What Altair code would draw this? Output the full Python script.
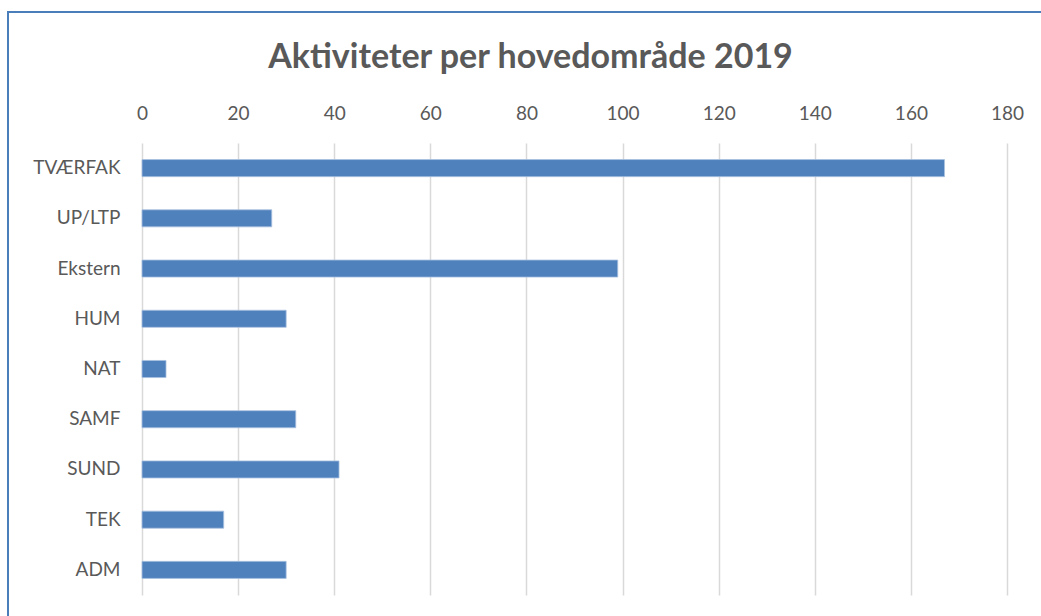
import altair as alt
import pandas as pd

categories = ["TVÆRFAK", "UP/LTP", "Ekstern", "HUM", "NAT", "SAMF", "SUND", "TEK", "ADM"]
values = [167, 27, 99, 30, 5, 32, 41, 17, 30]
tick_values = [0, 20, 40, 60, 80, 100, 120, 140, 160, 180]

df = pd.DataFrame({"omr": categories, "antal": values})

FONT = "Lato"
TXT = "#595959"
W, H = 865, 452

bars = alt.Chart(df).mark_bar(color="#4F81BD", stroke="#A9C1E0", strokeWidth=0.8).encode(
    x=alt.X(
        "antal:Q",
        scale=alt.Scale(domain=[0, 180], nice=False),
        axis=alt.Axis(
            orient="top",
            values=tick_values,
            title=None,
            ticks=False,
            domain=False,
            grid=True,
            gridColor="#D9D9D9",
            gridWidth=1.5,
            labelFont=FONT,
            labelFontSize=19,
            labelColor=TXT,
            labelPadding=20,
            labelFlush=False,
        ),
    ),
    y=alt.Y(
        "omr:N",
        sort=categories,
        scale=alt.Scale(paddingInner=0.66, paddingOuter=0.33),
        axis=alt.Axis(
            title=None,
            ticks=False,
            domain=False,
            labelFont=FONT,
            labelFontSize=19,
            labelColor=TXT,
            labelPadding=22,
        ),
    ),
)

frame = alt.Chart(pd.DataFrame({"k": [0]})).mark_rect(
    fill=None, stroke="#4A7EBB", strokeWidth=2
).encode(
    x=alt.value(-134),
    x2=alt.value(W + 120),
    y=alt.value(-131),
    y2=alt.value(H + 120),
)

chart = alt.layer(frame, bars).properties(
    width=W,
    height=H,
    background="white",
    title=alt.TitleParams(
        "Aktiviteter per hovedområde 2019",
        font=FONT,
        fontSize=34,
        fontWeight="bold",
        color=TXT,
        anchor="middle",
        frame="group",
        dx=-44,
        dy=91,
        offset=0,
        baseline="alphabetic",
    ),
    autosize=alt.AutoSizeParams(type="none"),
    padding={"left": 142, "top": 143, "right": 34, "bottom": 21},
).configure_view(strokeWidth=0, stroke="transparent")

chart.save("out.html", embed_options={"renderer": "svg", "actions": False})
